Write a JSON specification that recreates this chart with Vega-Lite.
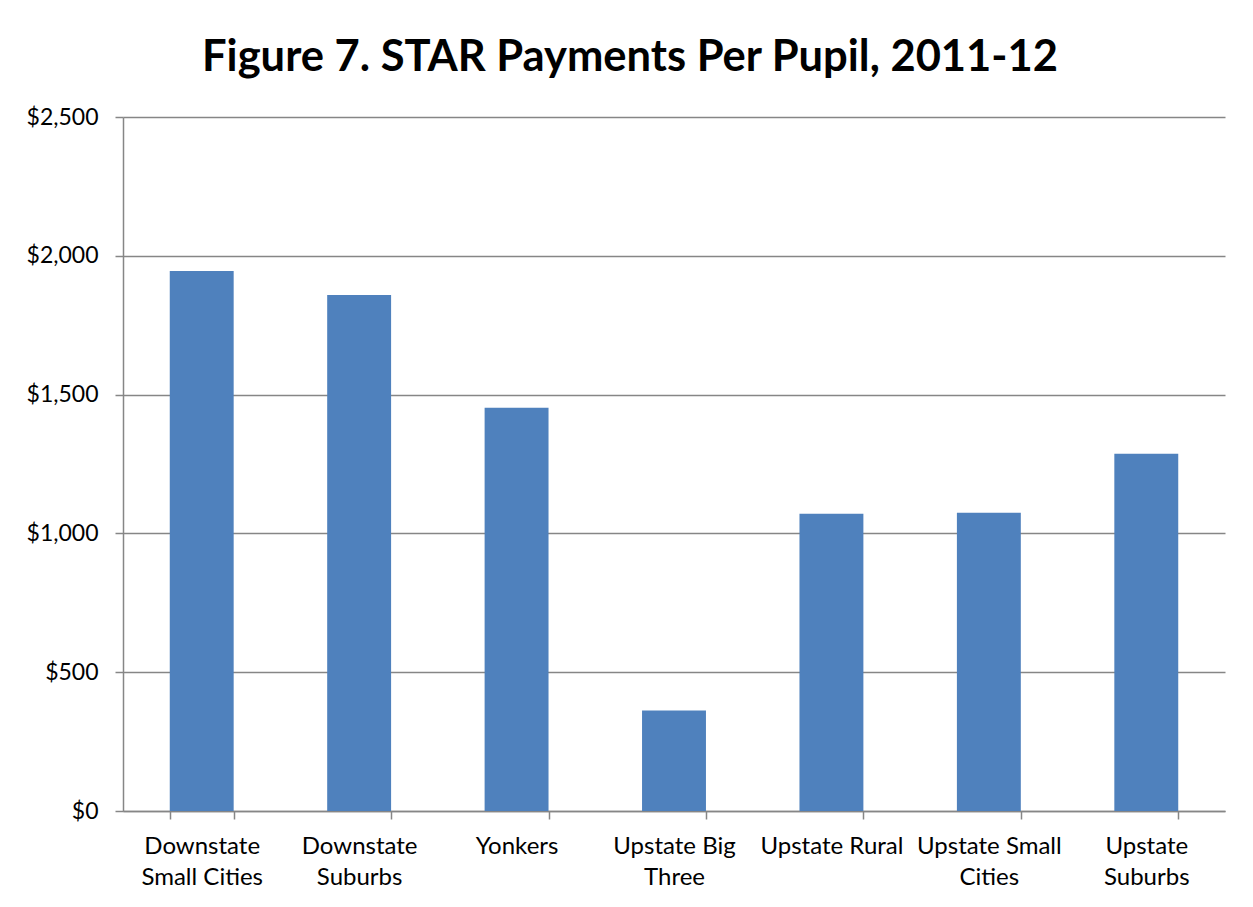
{
  "$schema": "https://vega.github.io/schema/vega-lite/v6.json",
  "autosize": "none",
  "width": 1102,
  "height": 694,
  "padding": {"left": 123, "top": 117, "right": 28, "bottom": 96},
  "background": "white",
  "title": {
    "text": "Figure 7. STAR Payments Per Pupil, 2011-12",
    "font": "Lato",
    "fontSize": 43.5,
    "fontWeight": "bold",
    "color": "#000000",
    "anchor": "middle",
    "dx": -44,
    "offset": 26
  },
  "data": {
    "values": [
      {"category": "Downstate Small Cities", "payment": 1945},
      {"category": "Downstate Suburbs", "payment": 1859},
      {"category": "Yonkers", "payment": 1453},
      {"category": "Upstate Big Three", "payment": 362},
      {"category": "Upstate Rural", "payment": 1071},
      {"category": "Upstate Small Cities", "payment": 1074},
      {"category": "Upstate Suburbs", "payment": 1287}
    ]
  },
  "mark": {"type": "bar", "color": "#4F81BD"},
  "encoding": {
    "x": {
      "field": "category",
      "type": "nominal",
      "sort": null,
      "scale": {"paddingInner": 0.594, "paddingOuter": 0.297},
      "axis": {
        "title": null,
        "labelAngle": 0,
        "tickBand": "extent",
        "labelExpr": "datum.label == 'Downstate Small Cities' ? ['Downstate', 'Small Cities'] : datum.label == 'Downstate Suburbs' ? ['Downstate', 'Suburbs'] : datum.label == 'Upstate Big Three' ? ['Upstate Big', 'Three'] : datum.label == 'Upstate Small Cities' ? ['Upstate Small', 'Cities'] : datum.label == 'Upstate Suburbs' ? ['Upstate', 'Suburbs'] : datum.label",
        "labelFont": "Lato",
        "labelFontSize": 24,
        "labelColor": "#000000",
        "labelLineHeight": 31,
        "labelPadding": 15,
        "labelBaseline": "top",
        "labelLimit": 0,
        "domainColor": "#868686",
        "domainWidth": 1.5,
        "tickColor": "#868686",
        "tickWidth": 1.5,
        "tickSize": 8,
        "grid": false
      }
    },
    "y": {
      "field": "payment",
      "type": "quantitative",
      "scale": {"domain": [0, 2500], "nice": false},
      "axis": {
        "title": null,
        "values": [0, 500, 1000, 1500, 2000, 2500],
        "format": "$,.0f",
        "labelFont": "Lato",
        "labelFontSize": 23,
        "labelColor": "#000000",
        "labelPadding": 17,
        "domainColor": "#868686",
        "domainWidth": 1.5,
        "tickColor": "#868686",
        "tickWidth": 1.5,
        "tickSize": 8,
        "grid": true,
        "gridColor": "#868686",
        "gridWidth": 1.5
      }
    }
  },
  "config": {
    "view": {"stroke": null},
    "axis": {"tickRound": true}
  }
}
